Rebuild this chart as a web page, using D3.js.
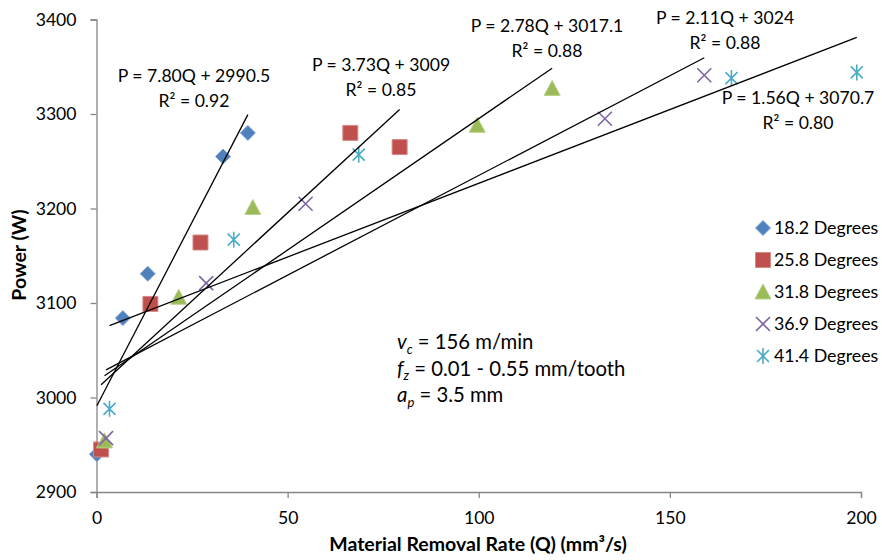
<!DOCTYPE html>
<html>
<head>
<meta charset="utf-8">
<script src="https://cdn.jsdelivr.net/npm/d3@7/dist/d3.min.js"></script>
<style>
  html, body { margin: 0; padding: 0; background: #fff; }
  svg { display: block; font-family: Lato, "Open Sans", sans-serif; }
</style>
</head>
<body>
<svg id="chart" width="882" height="560"></svg>
<script>
// Series names (cutting angles)
const seriesNames = ["18.2 Degrees", "25.8 Degrees", "31.8 Degrees", "36.9 Degrees", "41.4 Degrees"];
const seriesColors = ["#4F81BD", "#C0504D", "#9BBB59", "#8064A2", "#4BACC6"];
const seriesEdges = ["#7fa3d1", "#d58a88", "#b7d08a", "#a08bbd", "#85c6d8"];
const markerKinds = ["diamond", "square", "triangle", "x", "star"];

// Material removal rate Q (mm³/s) and measured power P (W)
const q18_2 = [0.1, 6.9, 13.4, 33.1, 39.6];
const p18_2 = [2940, 3084, 3131, 3255, 3280];
const q25_8 = [1.2, 14.1, 27.2, 66.4, 79.3];
const p25_8 = [2945, 3099, 3164, 3280, 3265];
const q31_8 = [2.1, 21.5, 40.9, 99.6, 119.2];
const p31_8 = [2953, 3105, 3200, 3287, 3326];
const q36_9 = [2.5, 28.7, 54.7, 133.0, 159.0];
const p36_9 = [2957, 3121, 3205, 3295, 3341];
const q41_4 = [3.4, 35.9, 68.6, 166.1, 198.9];
const p41_4 = [2988, 3167, 3257, 3338, 3344];

// Linear fits P = a·Q + b for each series
const slopes = [7.80, 3.73, 2.78, 2.11, 1.56];
const intercepts = [2990.5, 3009, 3017.1, 3024, 3070.7];
const slopeLabels = ["7.80", "3.73", "2.78", "2.11", "1.56"];
const interceptLabels = ["2990.5", "3009", "3017.1", "3024", "3070.7"];
const r2Labels = ["0.92", "0.85", "0.88", "0.88", "0.80"];

// Axis ticks
const xTicks = [0, 50, 100, 150, 200];
const yTicks = [2900, 3000, 3100, 3200, 3300, 3400];

const qSeries = [q18_2, q25_8, q31_8, q36_9, q41_4];
const pSeries = [p18_2, p25_8, p31_8, p36_9, p41_4];

const svg = d3.select("#chart");
const x = d3.scaleLinear().domain([0, 200]).range([96.5, 861]);
const y = d3.scaleLinear().domain([2900, 3400]).range([492, 19.5]);

const axisColor = "#868686";
const fontSize = 17.6;
const titleSize = 19.5;

// Axes
const xAxis = svg.append("g").attr("transform", `translate(0,${y(2900)})`)
  .call(d3.axisBottom(x).tickValues(xTicks).tickSize(6).tickPadding(14).tickFormat(d3.format("d")));
const yAxis = svg.append("g").attr("transform", `translate(${x(0)},0)`)
  .call(d3.axisLeft(y).tickValues(yTicks).tickSize(6).tickPadding(14).tickFormat(d3.format("d")));
[xAxis, yAxis].forEach(g => {
  g.select(".domain").attr("stroke", axisColor).attr("stroke-width", 1.3);
  g.selectAll(".tick line").attr("stroke", axisColor).attr("stroke-width", 1.3);
  g.selectAll(".tick text").attr("fill", "#000").style("font-size", fontSize + "px").style("font-family", "Lato");
});

// Axis titles
svg.append("text")
  .attr("x", 478).attr("y", 551)
  .attr("text-anchor", "middle")
  .style("font-size", titleSize + "px").style("font-weight", "bold")
  .text("Material Removal Rate (Q) (mm³/s)");
svg.append("text")
  .attr("transform", "translate(26,255) rotate(-90)")
  .attr("text-anchor", "middle")
  .style("font-size", titleSize + "px").style("font-weight", "bold")
  .text("Power (W)");

// Marker drawing
function markerPath(kind) {
  const p = d3.path();
  if (kind === "diamond") {
    p.moveTo(0, -7.5); p.lineTo(7.5, 0); p.lineTo(0, 7.5); p.lineTo(-7.5, 0); p.closePath();
  } else if (kind === "square") {
    p.rect(-7.5, -7.5, 15, 15);
  } else if (kind === "triangle") {
    p.moveTo(0, -9); p.lineTo(8, 6); p.lineTo(-8, 6); p.closePath();
  } else if (kind === "x") {
    p.moveTo(-7, -7); p.lineTo(7, 7); p.moveTo(-7, 7); p.lineTo(7, -7);
  } else {
    p.moveTo(0, -8); p.lineTo(0, 8);
    p.moveTo(-6, -6); p.lineTo(6, 6); p.moveTo(-6, 6); p.lineTo(6, -6);
  }
  return p.toString();
}
function styleMarker(sel, i) {
  const kind = markerKinds[i];
  if (kind === "x" || kind === "star") {
    sel.attr("fill", "none").attr("stroke", seriesColors[i]).attr("stroke-width", 1.6);
  } else {
    sel.attr("fill", seriesColors[i]).attr("stroke", seriesEdges[i]).attr("stroke-width", 1);
  }
}

// Data points
seriesNames.forEach((name, i) => {
  const pts = qSeries[i].map((q, k) => ({ q, p: pSeries[i][k] }));
  const g = svg.append("g").attr("class", "series");
  g.selectAll("path").data(pts).join("path")
    .attr("d", markerPath(markerKinds[i]))
    .attr("transform", d => `translate(${x(d.q)},${y(d.p)})`)
    .call(styleMarker, i);
});

// Trend lines over each series' Q range
const line = d3.line().x(d => x(d[0])).y(d => y(d[1]));
seriesNames.forEach((name, i) => {
  const [q0, q1] = d3.extent(qSeries[i]);
  const f = q => slopes[i] * q + intercepts[i];
  svg.append("path")
    .attr("d", line([[q0, f(q0)], [q1, f(q1)]]))
    .attr("fill", "none").attr("stroke", "#000").attr("stroke-width", 1.3);
});

// Fit equations
const eqPos = [[194, 82], [381, 71], [547, 32], [725, 24], [798, 104]];
seriesNames.forEach((name, i) => {
  const t = svg.append("text")
    .attr("text-anchor", "middle")
    .style("font-size", fontSize + "px");
  t.append("tspan").attr("x", eqPos[i][0]).attr("y", eqPos[i][1])
    .text(`P = ${slopeLabels[i]}Q + ${interceptLabels[i]}`);
  t.append("tspan").attr("x", eqPos[i][0]).attr("y", eqPos[i][1] + 24.5)
    .text(`R² = ${r2Labels[i]}`);
});

// Cutting conditions
const conds = [["v", "c", " = 156 m/min"], ["f", "z", " = 0.01 - 0.55 mm/tooth"], ["a", "p", " = 3.5 mm"]];
conds.forEach((c, k) => {
  const t = svg.append("text").attr("x", 397).attr("y", 349 + k * 26.5)
    .style("font-size", "20.3px");
  t.append("tspan").style("font-style", "italic").text(c[0]);
  t.append("tspan").style("font-style", "italic").style("font-size", "13px").attr("dy", 4.5).text(c[1]);
  t.append("tspan").attr("dy", -4.5).text(c[2]);
});

// Legend
const legend = svg.append("g").attr("transform", "translate(763,228)");
seriesNames.forEach((name, i) => {
  const row = legend.append("g").attr("transform", `translate(0,${i * 32})`);
  row.append("path").attr("d", markerPath(markerKinds[i])).call(styleMarker, i)
    .attr("transform", markerKinds[i] === "triangle" ? "translate(0,1)" : null);
  row.append("text").attr("x", 11).attr("y", 6)
    .style("font-size", "17.8px").text(name);
});
</script>
</body>
</html>
